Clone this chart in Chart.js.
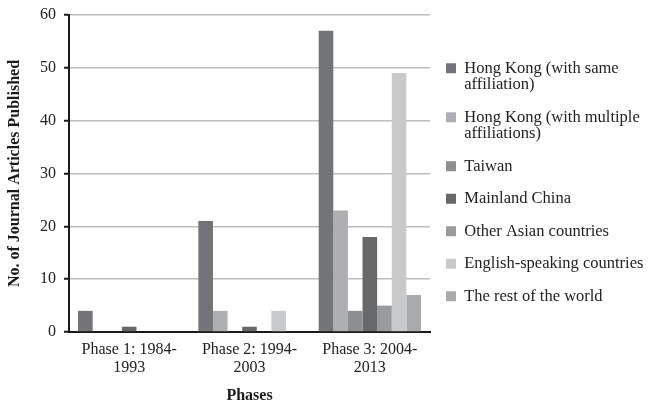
<!DOCTYPE html>
<html>
<head>
<meta charset="utf-8">
<script src="https://cdn.jsdelivr.net/npm/chart.js@4.4.1/dist/chart.umd.min.js"></script>
<style>
  html, body { margin: 0; padding: 0; background: #ffffff; }
  #wrap { width: 648px; height: 403px; position: relative; }
</style>
</head>
<body>
<div id="wrap"><canvas id="c" width="648" height="403"></canvas></div>
<script>
const categories = [
  ['Phase 1: 1984-', '1993'],
  ['Phase 2: 1994-', '2003'],
  ['Phase 3: 2004-', '2013']
];
const seriesNames = [
  'Hong Kong (with same\naffiliation)',
  'Hong Kong (with multiple\naffiliations)',
  'Taiwan',
  'Mainland China',
  'Other Asian countries',
  'English-speaking countries',
  'The rest of the world'
];
const hongKongSame = [4, 21, 57];
const hongKongMultiple = [0, 4, 23];
const taiwan = [0, 0, 4];
const mainlandChina = [1, 1, 18];
const otherAsian = [0, 0, 5];
const englishSpeaking = [0, 4, 49];
const restOfWorld = [0, 0, 7];
const yTicks = [0, 10, 20, 30, 40, 50, 60];
const xTitle = 'Phases';
const yTitle = 'No. of Journal Articles Published';

const seriesValues = [hongKongSame, hongKongMultiple, taiwan, mainlandChina, otherAsian, englishSpeaking, restOfWorld];
const seriesColors = ['#737478', '#aeafb2', '#8d8e91', '#67686a', '#9a9b9e', '#c8c9cb', '#a9aaad'];

const FONT = "'Liberation Serif', 'Times New Roman', serif";
const LEGEND_WIDTH = 217;

const ctx = document.getElementById('c').getContext('2d');
const chart = new Chart(ctx, {
  type: 'bar',
  data: {
    labels: categories,
    datasets: seriesValues.map((vals, i) => ({
      label: seriesNames[i],
      data: vals,
      backgroundColor: seriesColors[i],
      borderWidth: 0,
      categoryPercentage: 0.85,
      barPercentage: 1.0
    }))
  },
  options: {
    responsive: false,
    animation: false,
    devicePixelRatio: 1,
    layout: { padding: { left: 3, right: 1, top: 13, bottom: -1 } },
    plugins: {
      tooltip: { enabled: false },
      legend: {
        position: 'right',
        align: 'start',
        title: {
          display: true,
          text: ' ',
          font: { size: 1, lineHeight: 1 },
          padding: { top: 30, bottom: 0 }
        },
        labels: {
          boxWidth: 10,
          boxHeight: 10,
          padding: 16,
          color: '#222222',
          font: { family: FONT, size: 16.5, lineHeight: 1 },
          generateLabels: (chart) => {
            const items = Chart.defaults.plugins.legend.labels.generateLabels(chart);
            items.forEach(it => {
              const parts = String(it.text).split('\n');
              it.text = parts.length > 1 ? parts : parts[0];
              it.lineWidth = 0;
              it.strokeStyle = 'rgba(0,0,0,0)';
            });
            return items;
          }
        }
      }
    },
    scales: {
      x: {
        grid: { display: false, drawTicks: false },
        border: { display: true, color: '#1a1a1a', width: 2 },
        ticks: {
          color: '#222222',
          padding: 9,
          maxRotation: 0,
          autoSkip: false,
          font: { family: FONT, size: 16, lineHeight: 1.125 }
        },
        title: {
          display: true,
          text: xTitle,
          color: '#1a1a1a',
          font: { family: FONT, size: 16, weight: 'bold', lineHeight: 1 },
          padding: { top: 2, bottom: 0 }
        }
      },
      y: {
        min: 0,
        max: 60,
        afterBuildTicks: (axis) => { axis.ticks = yTicks.map(v => ({ value: v })); },
        grid: {
          color: '#bdbdbd',
          lineWidth: 1.5,
          drawTicks: true,
          tickLength: 5,
          tickColor: '#1a1a1a',
          tickWidth: 2
        },
        border: { display: true, color: '#1a1a1a', width: 2 },
        ticks: {
          color: '#222222',
          padding: 8,
          font: { family: FONT, size: 16, lineHeight: 0.875 }
        },
        title: {
          display: true,
          text: yTitle,
          color: '#1a1a1a',
          font: { family: FONT, size: 16, weight: 'bold', lineHeight: 1 },
          padding: { top: 4, bottom: 9 }
        }
      }
    }
  }
});

// Allow the right-hand legend to be as wide as its longest label
const legendBox = chart.legend;
const originalFit = legendBox.fit.bind(legendBox);
legendBox.fit = function () {
  originalFit();
  if (this.options.display) { this.width = LEGEND_WIDTH; }
};
chart.update();
</script>
</body>
</html>
